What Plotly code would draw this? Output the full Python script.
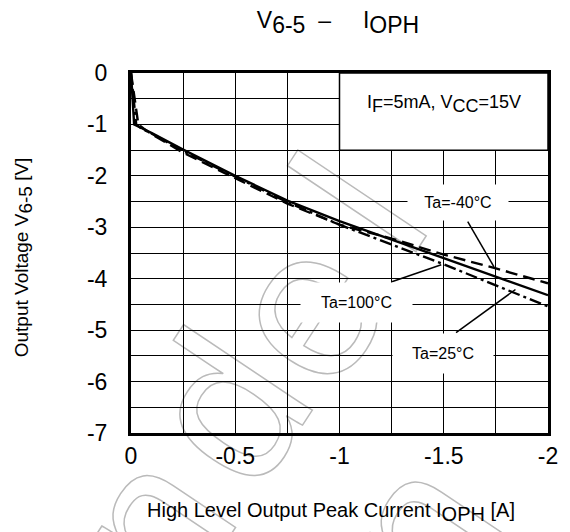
import base64
import plotly.graph_objects as go

# ---------------- data ----------------
# Ta = -40 degC (dashed)
i_m40 = [0, -0.035, -0.06, -0.1, -0.25, -0.5, -0.75, -1.0, -1.25, -1.5, -1.75, -2.0]
v_m40 = [0, -1.0, -1.08, -1.19, -1.55, -2.05, -2.54, -2.95, -3.22, -3.53, -3.80, -4.09]
# Ta = 25 degC (solid)
i_25 = [0, -0.015, -0.05, -0.1, -0.25, -0.5, -0.75, -1.0, -1.25, -1.5, -1.75, -2.0]
v_25 = [0, -1.0, -1.07, -1.17, -1.49, -2.0, -2.48, -2.88, -3.24, -3.60, -3.96, -4.32]
# Ta = 100 degC (dash-dot)
i_100 = [0, -0.025, -0.05, -0.1, -0.25, -0.5, -0.75, -1.0, -1.25, -1.5, -1.75, -2.0]
v_100 = [0, -1.0, -1.08, -1.18, -1.52, -2.02, -2.51, -2.95, -3.34, -3.72, -4.13, -4.54]

x_ticks = [0, -0.5, -1, -1.5, -2]
x_tick_text = ["0", "-0.5", "-1", "-1.5", "-2"]
x_minor = [-0.25, -0.75, -1.25, -1.75]
y_ticks = [0, -1, -2, -3, -4, -5, -6, -7]
y_tick_text = ["0", "-1", "-2", "-3", "-4", "-5", "-6", "-7"]
y_minor = [-0.5, -1.5, -2.5, -3.5, -4.5, -5.5, -6.5]

label_text = ["Ta=-40°C", "Ta=100°C", "Ta=25°C"]
label_pos = [(-1.569, -2.51), (-1.083, -4.47), (-1.498, -5.46)]
label_box = [(100, 35), (111, 39), (100, 39)]
leader_from = [(-1.615, -2.89), (-1.251, -4.06), (-1.559, -5.05)]
leader_to = [(-1.741, -3.77), (-1.488, -3.73), (-1.844, -4.21)]

watermark_words = ["nd", "e", "l", "n"]

FONT = "Arial, Liberation Sans, sans-serif"


def sub(t, size):
    return f'<sub><span style="font-size:{size}px">{t}</span></sub>'


cond_text = f"I{sub('F', 18)}=5mA, V{sub('CC', 18)}=15V"
cond_box = (-1.0, -2.0, 0.0, -1.5)
title_text = f"V{sub('6-5', 23)}  –     I{sub('OPH', 23)}"
x_title = f"High Level Output Peak Current I{sub('OPH', 20)} [A]"
y_title = f"Output Voltage V{sub('6-5', 19)} [V]"

W, H = 570, 532
ML, MR, MT, MB = 131, 17, 73, 99
PW, PH = W - ML - MR, H - MT - MB

fig = go.Figure()

fig.add_trace(go.Scatter(x=i_m40, y=v_m40, mode="lines", name="Ta=-40°C",
                         line=dict(color="black", width=2.4, dash="12px,6px")))
fig.add_trace(go.Scatter(x=i_25, y=v_25, mode="lines", name="Ta=25°C",
                         line=dict(color="black", width=2.4)))
fig.add_trace(go.Scatter(x=i_100, y=v_100, mode="lines", name="Ta=100°C",
                         line=dict(color="black", width=2.4, dash="12px,4px,3px,4px")))

# watermark (outlined text, drawn beneath the plot)
wm_style = ('font-family="Liberation Sans, Arial, sans-serif" font-size="215" letter-spacing="21" '
            'fill="none" stroke="#bababa" stroke-width="1.5"')
w0, w1, w2, w3 = watermark_words
svg = (
    f'<svg xmlns="http://www.w3.org/2000/svg" width="{W}" height="{H}" viewBox="0 0 {W} {H}">'
    f'<text x="178.6" y="615.5" transform="rotate(-56.5 178.6 615.5)" {wm_style}>'
    f'{w0}<tspan dx="-15" dy="10">{w1}</tspan><tspan dx="15" dy="-10">{w2}</tspan></text>'
    f'<text x="450" y="622" transform="rotate(-56.5 450 622)" {wm_style}>{w3}</text>'
    '</svg>'
)
src = "data:image/svg+xml;base64," + base64.b64encode(svg.encode()).decode()
fig.add_layout_image(dict(source=src, xref="paper", yref="paper",
                          x=-ML / PW, y=1 + MT / PH, sizex=W / PW, sizey=H / PH,
                          xanchor="left", yanchor="top", sizing="stretch", layer="below"))

shapes = []
shapes.append(dict(type="rect", xref="x", yref="y", x0=cond_box[0], x1=cond_box[1],
                   y0=cond_box[2], y1=cond_box[3], fillcolor="white",
                   line=dict(color="black", width=1.5), layer="above"))
for (x0, y0), (x1, y1) in zip(leader_from, leader_to):
    shapes.append(dict(type="line", xref="x", yref="y", x0=x0, y0=y0, x1=x1, y1=y1,
                       line=dict(color="black", width=1.5), layer="above"))

annotations = []
annotations.append(dict(x=(cond_box[0] + cond_box[1]) / 2, y=-0.6, xref="x", yref="y",
                        text=cond_text, showarrow=False,
                        font=dict(family=FONT, size=18, color="black")))
for t, (x, y), (bw, bh) in zip(label_text, label_pos, label_box):
    annotations.append(dict(x=x, y=y, xref="x", yref="y", text=t, showarrow=False,
                            bgcolor="white", width=bw, height=bh, borderpad=0,
                            font=dict(family=FONT, size=16, color="black")))
annotations.append(dict(x=(333 - ML) / PW, y=-(512 - MT - PH) / PH, xref="paper", yref="paper",
                        text=x_title, showarrow=False, xanchor="center", yanchor="middle",
                        font=dict(family=FONT, size=20, color="black")))
annotations.append(dict(x=-(ML - 22) / PW, y=1 - (257 - MT) / PH, xref="paper", yref="paper",
                        text=y_title, textangle=-90,
                        showarrow=False, xanchor="center", yanchor="middle",
                        font=dict(family=FONT, size=19, color="black")))

axis_common = dict(showgrid=True, gridcolor="black", gridwidth=1.3, zeroline=False,
                   showline=True, linecolor="black", linewidth=3, mirror=True,
                   ticks="", tickfont=dict(family=FONT, size=23, color="black"))

fig.update_layout(
    width=W, height=H,
    margin=dict(l=ML, r=MR, t=MT, b=MB, pad=0),
    paper_bgcolor="white", plot_bgcolor="rgba(0,0,0,0)",
    showlegend=False,
    title=dict(text=title_text, x=338 / W, xanchor="center",
               y=1 - 20 / H, yanchor="middle", yref="container", xref="container",
               font=dict(family=FONT, size=23, color="black")),
    xaxis=dict(range=[0, -2], tickmode="array", tickvals=x_ticks, ticktext=x_tick_text,
               minor=dict(tickvals=x_minor, showgrid=True, gridcolor="black", gridwidth=1.3),
               ticklabelstandoff=0, **axis_common),
    yaxis=dict(range=[-7, 0], tickmode="array", tickvals=y_ticks, ticktext=y_tick_text,
               minor=dict(tickvals=y_minor, showgrid=True, gridcolor="black", gridwidth=1.3),
               ticklabelstandoff=16, **axis_common),
    shapes=shapes, annotations=annotations,
)

fig.write_html("out.html", config={"displayModeBar": False},
               post_script="document.body.style.margin='0px';")
